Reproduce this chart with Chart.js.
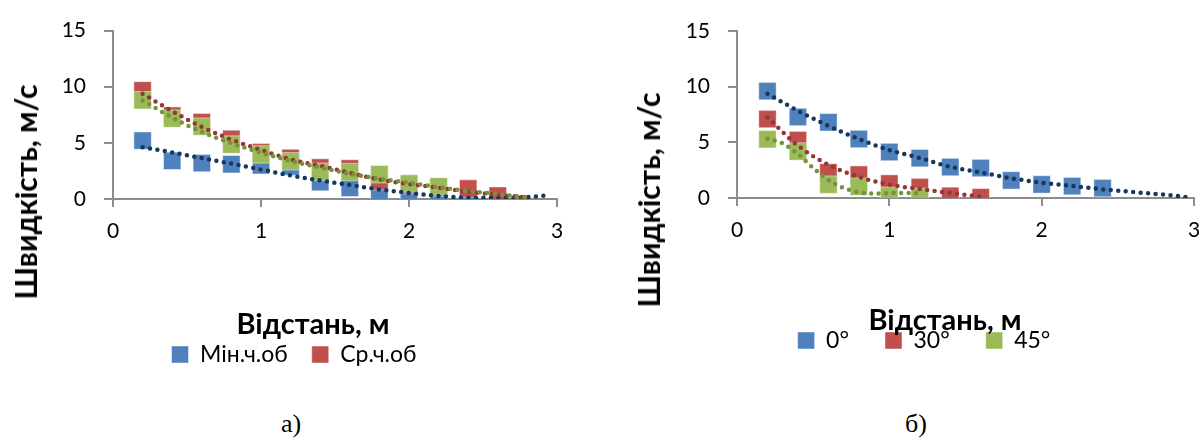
<!DOCTYPE html>
<html>
<head>
<meta charset="utf-8">
<script src="https://cdn.jsdelivr.net/npm/chart.js@4.4.1/dist/chart.umd.min.js"></script>
<style>
  body { margin: 0; background: #fff; }
  #wrap { position: relative; width: 1201px; height: 443px; overflow: hidden; font-family: Lato, sans-serif; color: #000; }
  canvas { position: absolute; top: 0; }
  .ytitle { position: absolute; font-weight: bold; font-size: 30px; line-height: 1; white-space: nowrap; transform: translate(-50%, -50%) rotate(-90deg); }
  .xtitle { position: absolute; font-weight: bold; font-size: 29px; line-height: 1; white-space: nowrap; transform: translateX(-50%); }
  .caption { position: absolute; font-family: "Liberation Serif", serif; font-size: 26px; line-height: 1; transform: translateX(-50%); }
</style>
</head>
<body>
<div id="wrap">
  <canvas id="chartA" width="600" height="400" style="left:0"></canvas>
  <canvas id="chartB" width="620" height="400" style="left:600px"></canvas>
  <div class="ytitle" style="left:25px; top:192px">Швидкість, м/с</div>
  <div class="ytitle" style="left:648px; top:200px">Швидкість, м/с</div>
  <div class="xtitle" style="left:313px; top:308px">Відстань, м</div>
  <div class="xtitle" style="left:945px; top:304px">Відстань, м</div>
  <div class="caption" style="left:291px; top:411px">а)</div>
  <div class="caption" style="left:916px; top:411px">б)</div>
</div>
<script>
// ---- chart а) ----
const xA = [0.2, 0.4, 0.6, 0.8, 1.0, 1.2, 1.4, 1.6, 1.8, 2.0, 2.2, 2.4, 2.6];
const minFlow = [5.2, 3.4, 3.2, 3.1, 3.0, 2.9, 1.5, 1.0, 0.5, 0.4, 0.25, 0.15, 0.1];   // Мін.ч.об
const midFlow = [9.68, 7.42, 6.85, 5.36, 4.16, 3.65, 2.8, 2.72, 1.58, 1.23, 1.0, 0.93, 0.3]; // Ср.ч.об
const xAmax = [0.2, 0.4, 0.6, 0.8, 1.0, 1.2, 1.4, 1.6, 1.8, 2.0, 2.2];
const maxFlow = [8.79, 7.16, 6.45, 4.85, 3.97, 3.36, 2.43, 2.4, 2.2, 1.38, 1.12];   // зелена серія (без легенди)

const trendMinX = [0.2, 0.4, 0.6, 0.8, 1.0, 1.2, 1.4, 1.6, 1.8, 2.0, 2.2, 2.4, 2.6, 2.8, 2.95];
const trendMinY = [4.6, 4.15, 3.64, 3.15, 2.63, 2.1, 1.65, 1.25, 0.85, 0.54, 0.27, 0.12, 0.1, 0.17, 0.34];
const trendMidX = [0.2, 0.4, 0.6, 0.8, 1.0, 1.2, 1.4, 1.6, 1.8, 2.0, 2.2, 2.4, 2.6, 2.8];
const trendMidY = [9.38, 7.82, 6.42, 5.29, 4.37, 3.52, 2.95, 2.33, 1.73, 1.34, 1.0, 0.66, 0.37, 0.14];
const trendMaxY = [8.78, 7.25, 5.97, 4.97, 4.12, 3.38, 2.8, 2.25, 1.8, 1.45, 1.05, 0.71, 0.43, 0.14];

// ---- chart б) ----
const xB0 = [0.2, 0.4, 0.6, 0.8, 1.0, 1.2, 1.4, 1.6, 1.8, 2.0, 2.2, 2.4];
const deg0 = [9.6, 7.28, 6.8, 5.3, 4.13, 3.58, 2.78, 2.69, 1.58, 1.22, 1.07, 0.89];
const xB30 = [0.2, 0.4, 0.6, 0.8, 1.0, 1.2, 1.4, 1.6];
const deg30 = [7.09, 5.2, 2.3, 2.1, 1.3, 0.98, 0.19, 0.07];
const xB45 = [0.2, 0.4, 0.6, 0.8, 1.0, 1.2];
const deg45 = [5.28, 4.18, 1.2, 1.02, 0.2, 0.1];

const trend0X = [0.2, 0.4, 0.6, 0.8, 1.0, 1.2, 1.4, 1.6, 1.8, 2.0, 2.2, 2.4, 2.6, 2.8, 2.95];
const trend0Y = [9.37, 7.83, 6.48, 5.3, 4.3, 3.6, 2.8, 2.29, 1.78, 1.38, 1.08, 0.78, 0.54, 0.3, 0.09];
const trend30X = [0.2, 0.4, 0.6, 0.8, 1.0, 1.2, 1.4, 1.6];
const trend30Y = [7.23, 4.7, 2.98, 1.9, 1.2, 0.8, 0.45, 0.12];
const trend45X = [0.2, 0.3, 0.4, 0.5, 0.6, 0.7, 0.8, 0.9, 1.0, 1.1, 1.2];
const trend45Y = [5.33, 4.9, 3.95, 2.7, 1.62, 0.9, 0.52, 0.4, 0.44, 0.45, 0.45];

const BLUE = "#4F81BD", RED = "#C0504D", GREEN = "#9BBB59";
const BLUE_T = "#17375E", RED_T = "#953735", GREEN_T = "#76923C";
const AXIS = "#8c8c8c";

function pts(xs, ys) {
  return ys.map((y, i) => ({ x: xs[i], y: y }));
}

function markers(label, xs, ys, color, order) {
  return {
    label: label,
    data: pts(xs, ys),
    backgroundColor: color,
    borderColor: "rgba(255,255,255,0.45)",
    borderWidth: 1,
    pointStyle: "rect",
    pointRadius: 12.3,
    pointHoverRadius: 12.3,
    order: order
  };
}

function trend(xs, ys, color, order) {
  return {
    label: "",
    data: pts(xs, ys),
    showLine: true,
    borderColor: color,
    backgroundColor: color,
    borderWidth: 4.5,
    borderDash: [0, 7.5],
    borderCapStyle: "round",
    cubicInterpolationMode: "monotone",
    pointRadius: 0,
    pointHoverRadius: 0,
    order: order
  };
}

function drawChart(canvasId, datasets, nLegend, cfg) {
  new Chart(document.getElementById(canvasId), {
    type: "scatter",
    data: { datasets: datasets },
    options: {
      responsive: false,
      devicePixelRatio: 1,
      animation: false,
      layout: { padding: cfg.padding },
      scales: {
        x: {
          type: "linear", min: 0, max: 3,
          ticks: { stepSize: 1, padding: 12, color: "#000", font: { family: "Lato", size: 21 } },
          grid: { drawOnChartArea: false, drawTicks: true, tickLength: 8, color: AXIS, lineWidth: 2 },
          border: { display: true, color: AXIS, width: 2 },
          afterFit: (s) => { s.height = cfg.xHeight; }
        },
        y: {
          type: "linear", min: 0, max: 15,
          ticks: { stepSize: 5, padding: 18, color: "#000", font: { family: "Lato", size: 21 } },
          grid: { drawOnChartArea: false, drawTicks: true, tickLength: 9, color: AXIS, lineWidth: 2 },
          border: { display: true, color: AXIS, width: 2 },
          afterFit: (s) => { s.width = cfg.yWidth; }
        }
      },
      plugins: {
        tooltip: { enabled: false },
        legend: {
          position: "bottom",
          labels: {
            filter: (item) => item.datasetIndex < nLegend,
            sort: (a, b) => a.datasetIndex - b.datasetIndex,
            boxWidth: 17,
            boxHeight: 17,
            padding: cfg.legendPad,
            color: "#000",
            font: { family: "Lato", size: 23 }
          }
        }
      }
    }
  });
}

drawChart("chartA", [
  markers("Мін.ч.об", xA, minFlow, BLUE, 6),
  markers("Ср.ч.об", xA, midFlow, RED, 5),
  markers("Макс.ч.об", xAmax, maxFlow, GREEN, 4),
  trend(trendMinX, trendMinY, BLUE_T, 3),
  trend(trendMidX, trendMidY, RED_T, 2),
  trend(trendMidX, trendMaxY, GREEN_T, 1)
], 2, { padding: { top: 24, left: 31, right: 43, bottom: 24 }, yWidth: 82, xHeight: 120, legendPad: 24 });

drawChart("chartB", [
  markers("0°", xB0, deg0, BLUE, 6),
  markers("30°", xB30, deg30, RED, 5),
  markers("45°", xB45, deg45, GREEN, 4),
  trend(trend0X, trend0Y, BLUE_T, 3),
  trend(trend30X, trend30Y, RED_T, 2),
  trend(trend45X, trend45Y, GREEN_T, 1)
], 3, { padding: { top: 31, left: 54, right: 26, bottom: 38 }, yWidth: 83, xHeight: 95, legendPad: 36 });
</script>
</body>
</html>
